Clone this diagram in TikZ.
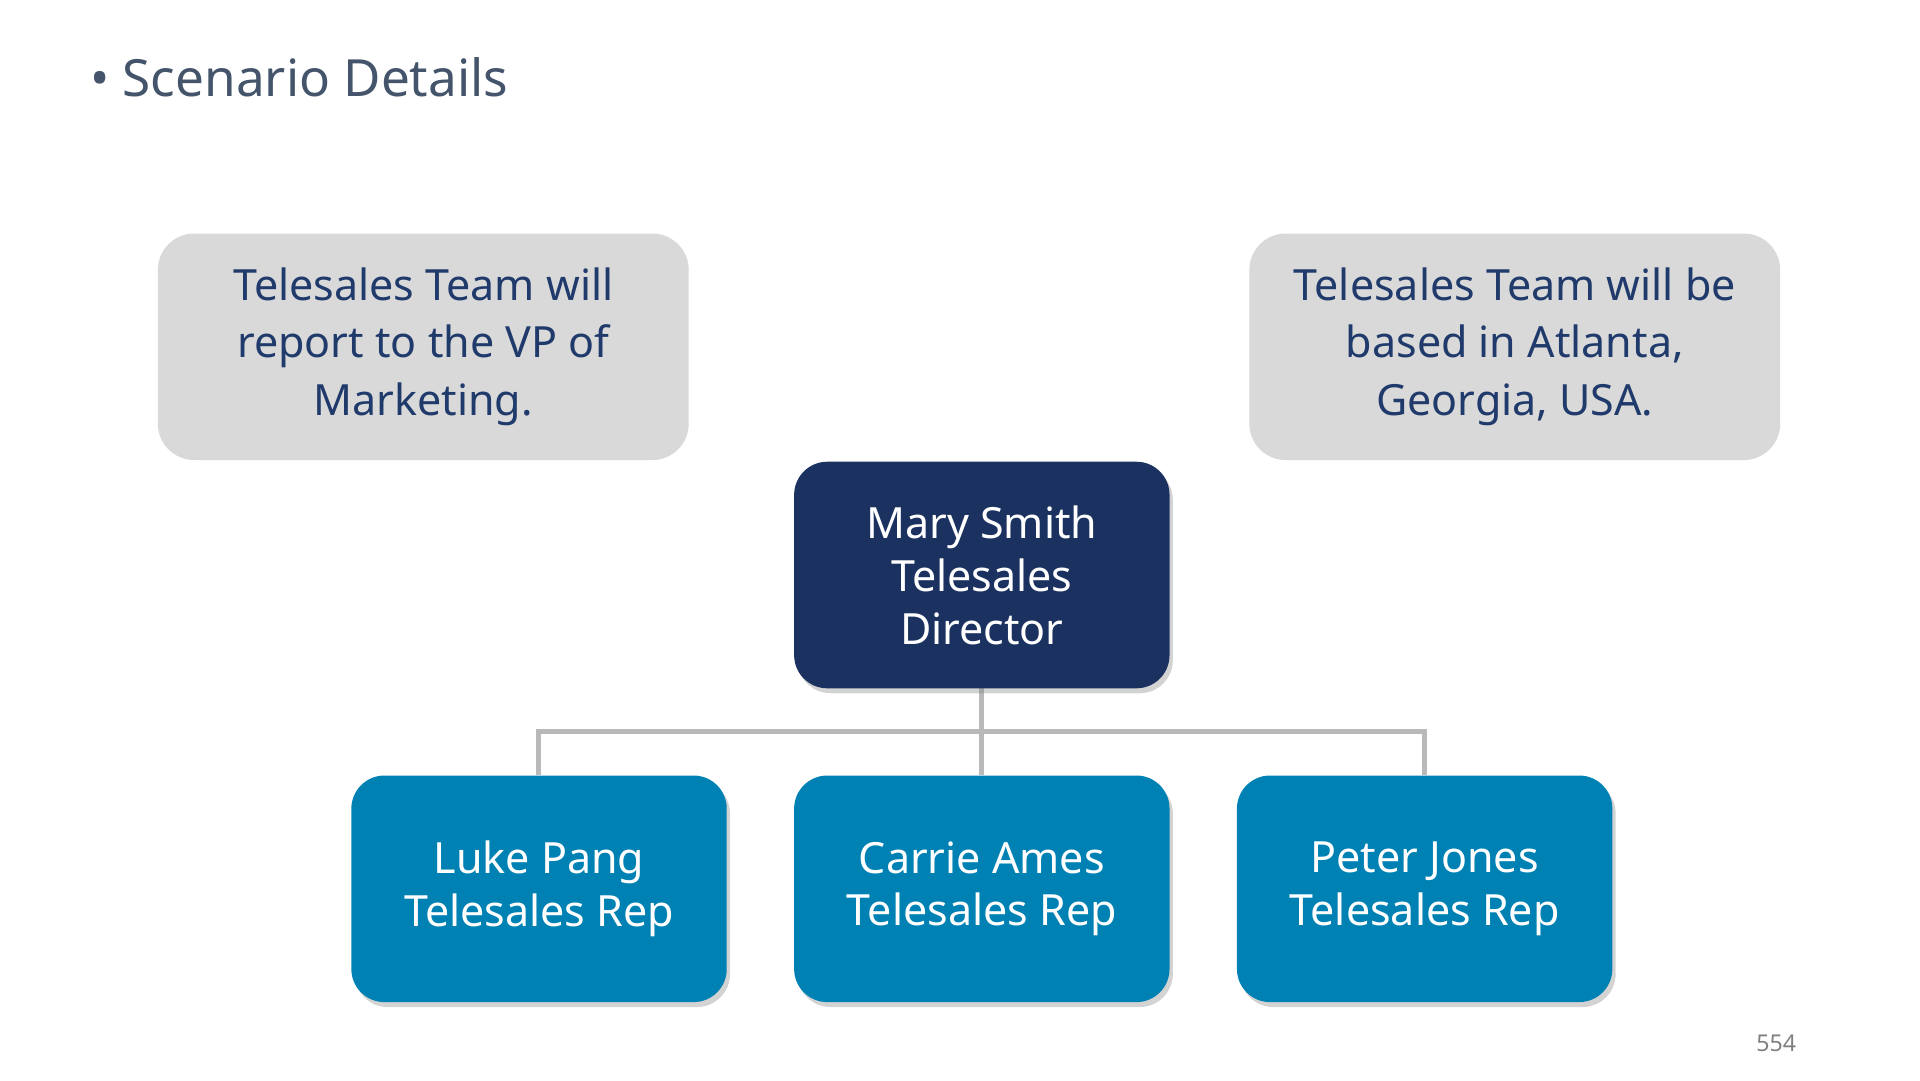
\documentclass[tikz,border=0pt]{standalone}
\usepackage{fontspec}
\setmainfont{Noto Sans}
\usetikzlibrary{shadows}
\definecolor{navy}{HTML}{1B3260}
\definecolor{teal}{HTML}{0081B4}
\definecolor{greybox}{HTML}{D9D9D9}
\definecolor{titlec}{HTML}{44546A}
\definecolor{txt}{HTML}{1F3A6B}
\begin{document}
\begin{tikzpicture}[x=0.75pt,y=-0.75pt,
  note/.style={fill=greybox,rounded corners=22pt,minimum width=321pt,minimum height=137pt,align=center,text=txt,font=\fontsize{26}{35}\selectfont,anchor=north west},
  card/.style={rounded corners=20pt,minimum width=227pt,minimum height=137pt,align=center,text=white,anchor=north west,drop shadow={opacity=0.35,shadow xshift=2pt,shadow yshift=-3pt},font=\fontsize{26}{32}\selectfont},
  link/.style={draw=gray!55,line width=3pt}]
\useasboundingbox (0,0) rectangle (1548,871);
\node[anchor=west,text=titlec,font=\bfseries\fontsize{31}{36}\selectfont] (title) at (68,62) {• Scenario Details};
\node[note] (n1) at (127,188) {Telesales Team will\\report to the VP of\\Marketing.};
\node[note] (n2) at (1007,188) {Telesales Team will be\\based in Atlanta,\\Georgia, USA.};
\coordinate (j) at (791.5,590);
\coordinate (mt) at (791.5,555);
\coordinate (lt) at (434.5,625);
\coordinate (ct) at (791.5,625);
\coordinate (pt) at (1148.5,625);
\draw[link] (mt) -- (ct);
\draw[link] (lt) |- (j) -| (pt);
\node[card,fill=navy] (ms) at (640,372) {\textbf{Mary Smith}\\Telesales\\Director};
\node[card,fill=teal] (lp) at (283,625) {\textbf{Luke Pang}\\Telesales Rep};
\node[card,fill=teal] (ca) at (640,625) {\textbf{Carrie Ames}\\Telesales Rep};
\node[card,fill=teal] (pj) at (997,625) {\textbf{Peter Jones}\\Telesales Rep};
\node[text=gray,font=\fontsize{14}{16}\selectfont] (pg) at (1432,841) {554};
\end{tikzpicture}
\end{document}
